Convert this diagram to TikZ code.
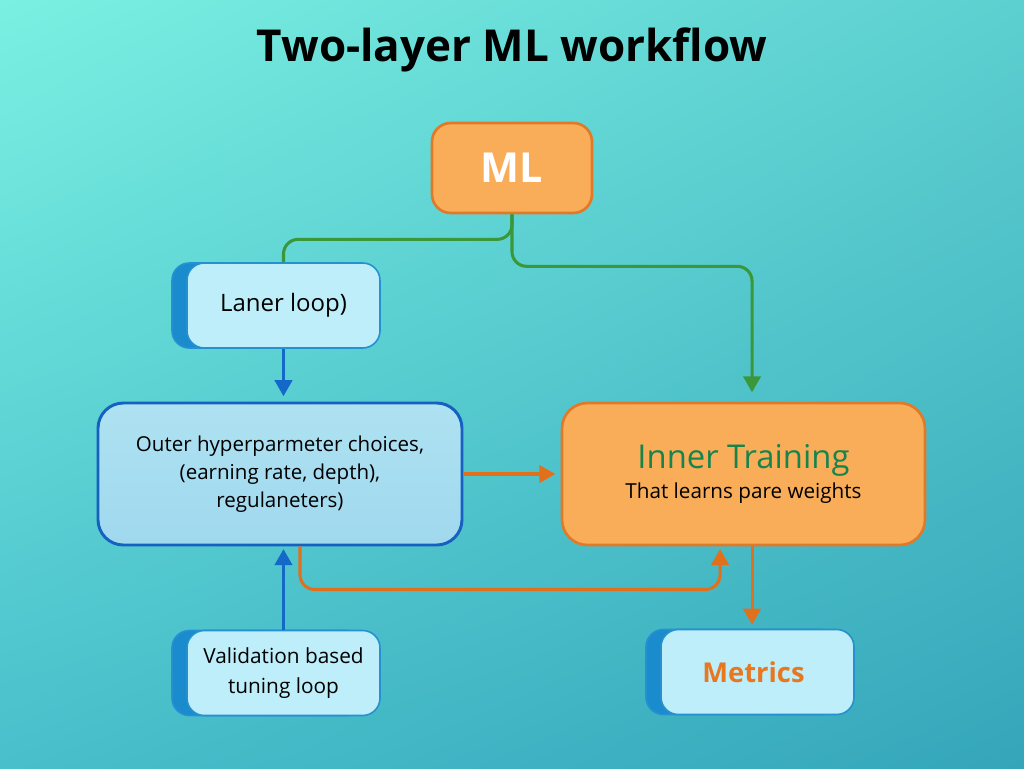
\documentclass[tikz,border=0pt]{standalone}
\usepackage{fontspec}
\setmainfont{Open Sans}
\usetikzlibrary{arrows.meta,calc,shadings}
\definecolor{bgTL}{HTML}{7AF0E2}
\definecolor{bgTR}{HTML}{5CCFD0}
\definecolor{bgBL}{HTML}{48BFCB}
\definecolor{bgBR}{HTML}{35A6BA}
\definecolor{orfill}{HTML}{F9AD59}
\definecolor{ordraw}{HTML}{E07A28}
\definecolor{orline}{HTML}{E0701C}
\definecolor{grline}{HTML}{3A983A}
\definecolor{grtext}{HTML}{17844C}
\definecolor{bllight}{HTML}{BDEEFA}
\definecolor{blborder}{HTML}{2690D0}
\definecolor{bltab}{HTML}{1A8CCE}
\definecolor{outertop}{HTML}{AEE2F2}
\definecolor{outerbot}{HTML}{A0D8EE}
\definecolor{outerdraw}{HTML}{1560C0}
\definecolor{blline}{HTML}{1368C8}
\definecolor{mettext}{HTML}{E87820}
\tikzset{
  x=0.75pt, y=-0.75pt,
  orbox/.style={draw=ordraw, fill=orfill, line width=2pt, rounded corners=14pt, align=center, inner sep=0pt},
  smallbox/.style={draw=blborder, fill=bllight, line width=1.2pt, rounded corners=13pt, align=center,
     inner sep=0pt, minimum width=144.75pt, minimum height=63.75pt,
     preaction={draw=blborder, fill=bltab, line width=1.2pt, rounded corners=13pt, transform canvas={xshift=-11.25pt}}},
  outerbox/.style={draw=outerdraw, top color=outertop, bottom color=outerbot, line width=2.2pt, rounded corners=19pt, align=center, inner sep=0pt},
  conn/.style={line width=2.3pt, rounded corners=11pt},
  tip/.style={-{Triangle[length=12pt,width=13pt]}},
}
\begin{document}
\begin{tikzpicture}
\useasboundingbox (0,0) rectangle (1024,768);
\shade[upper left=bgTL, upper right=bgTR, lower left=bgBL, lower right=bgBR] (0,0) rectangle (1024,768);

\node[font=\fontsize{33}{38}\selectfont\bfseries] (title) at (512,50) {Two-layer ML workflow};

\node[orbox, minimum width=120pt, minimum height=67.5pt, text=white, font=\fontsize{31}{36}\selectfont\bfseries] (ml) at (512,168) {ML};

\node[smallbox, font=\fontsize{18}{22}\selectfont] (laner) at (283.5,305.5) {Laner loop)};

\node[outerbox, minimum width=273pt, minimum height=106.5pt, font=\fontsize{15.4}{21}\selectfont] (outer) at (280,474) {Outer hyperparmeter choices,\\(earning rate, depth),\\regulaneters)};

\node[orbox, rounded corners=19pt, minimum width=272.25pt, minimum height=106.5pt] (inner) at (743.5,474)
  {\textcolor{grtext}{\fontsize{24.6}{28}\selectfont Inner Training}\\[4pt]{\fontsize{15.5}{20}\selectfont That learns pare weights}};

\node[smallbox, font=\fontsize{15.6}{22.5}\selectfont] (val) at (283.5,673) {Validation based\\tuning loop};

\node[smallbox, font=\fontsize{20.5}{24}\selectfont\bfseries, text=mettext] (met) at (757.5,672) {\hspace*{-6pt}Metrics};

% green connectors from ML
\draw[conn, grline] (ml.south) -- ++(0,25) -| (laner.north);
\draw[conn, grline, tip, shorten >=7pt] (ml.south) -- ++(0,52) -| ([xshift=6.4pt]inner.north);

% blue connectors
\draw[conn, blline, tip, shorten >=4pt] (laner.south) -- (laner.south |- outer.north);
\draw[conn, blline, tip, shorten >=2pt] (val.north) -- (val.north |- outer.south);

% orange connectors
\draw[conn, orline, tip, shorten >=4pt] (outer.east) -- (inner.west);
\draw[conn, orline, tip, shorten >=2pt] ([xshift=15pt]outer.south) -- ++(0,43) -| ([xshift=-17.6pt]inner.south);
\draw[conn, orline, tip, shorten >=3pt] ([xshift=6.4pt]inner.south) -- ([xshift=6.4pt]inner.south |- met.north);
\end{tikzpicture}
\end{document}
